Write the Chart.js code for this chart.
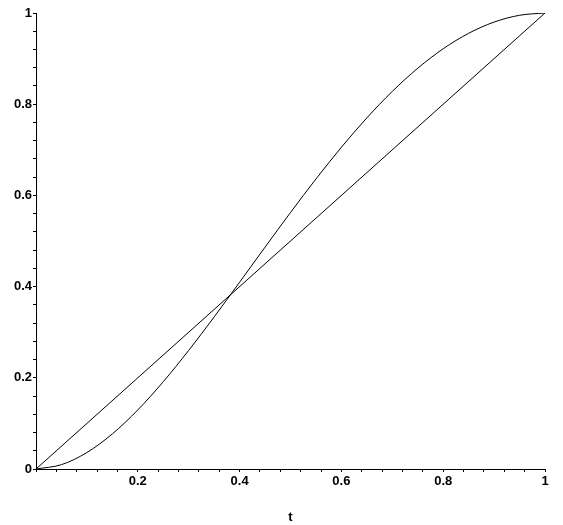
<!DOCTYPE html>
<html>
<head>
<meta charset="utf-8">
<script src="https://cdn.jsdelivr.net/npm/chart.js@4/dist/chart.umd.min.js"></script>
<style>
    html, body { margin: 0; padding: 0; background: #fff; }
    #wrap { width: 563px; height: 525px; }
</style>
</head>
<body>
<div id="wrap"><canvas id="plot" width="563" height="525"></canvas></div>
<script>
// parameter values along the x axis
const tValues = [0, 0.05, 0.1, 0.15, 0.2, 0.25, 0.3, 0.35, 0.4, 0.45, 0.5,
                 0.55, 0.6, 0.65, 0.7, 0.75, 0.8, 0.85, 0.9, 0.95, 1];
// curved series
const curveValues = [0, 0.0095, 0.0361, 0.077, 0.1296, 0.1914, 0.2601, 0.3335, 0.4096, 0.4865, 0.5625,
                     0.636, 0.7056, 0.77, 0.8281, 0.8789, 0.9216, 0.9555, 0.9801, 0.995, 1];
// straight series
const lineT = [0, 1];
const lineValues = [0, 1];
// labelled ticks
const majorTicks = [0, 0.2, 0.4, 0.6, 0.8, 1];

function toPoints(xs, ys) {
    return xs.map((x, i) => ({ x: x, y: ys[i] }));
}

function tickLabel(value, skipZero) {
    const v = Math.round(value * 100) / 100;
    if (skipZero && v === 0) return '';
    return majorTicks.includes(v) ? String(v) : '';
}

const tickFont = { family: 'Liberation Sans', size: 13, weight: 'bold' };

document.addEventListener('DOMContentLoaded', () => {
    const ctx = document.getElementById('plot').getContext('2d');
    new Chart(ctx, {
        type: 'line',
        data: {
            datasets: [{
                data: toPoints(tValues, curveValues),
                borderColor: '#000',
                borderWidth: 1,
                pointRadius: 0,
                cubicInterpolationMode: 'monotone',
                fill: false
            }, {
                data: toPoints(lineT, lineValues),
                borderColor: '#000',
                borderWidth: 1,
                pointRadius: 0,
                fill: false
            }]
        },
        options: {
            responsive: false,
            animation: false,
            layout: { padding: { top: 13, right: 18, left: 0, bottom: 0 } },
            plugins: {
                legend: { display: false },
                tooltip: { enabled: false }
            },
            scales: {
                x: {
                    type: 'linear',
                    min: 0,
                    max: 1,
                    border: { display: true, color: '#000', width: 1 },
                    grid: { drawOnChartArea: false, color: '#000', tickLength: 3 },
                    ticks: {
                        stepSize: 0.04,
                        autoSkip: false,
                        maxRotation: 0,
                        color: '#000',
                        font: tickFont,
                        padding: 2,
                        callback: (v) => tickLabel(v, true)
                    },
                    title: {
                        display: true,
                        text: 't',
                        color: '#000',
                        font: tickFont,
                        padding: { top: 18, bottom: 0 }
                    },
                    afterFit: (scale) => { scale.height = 56; }
                },
                y: {
                    type: 'linear',
                    min: 0,
                    max: 1,
                    border: { display: true, color: '#000', width: 1 },
                    grid: { drawOnChartArea: false, color: '#000', tickLength: 3 },
                    ticks: {
                        stepSize: 0.04,
                        autoSkip: false,
                        color: '#000',
                        font: tickFont,
                        padding: 1,
                        callback: (v) => tickLabel(v, false)
                    },
                    afterFit: (scale) => { scale.width = 36; }
                }
            }
        }
    });
});
</script>
</body>
</html>
